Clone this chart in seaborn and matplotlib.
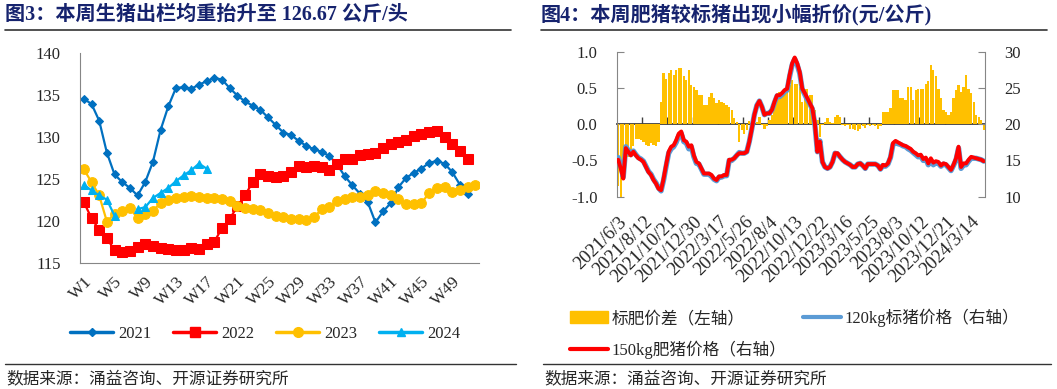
import numpy as np
import pandas as pd
import seaborn as sns
import matplotlib.pyplot as plt
from matplotlib.lines import Line2D
from matplotlib.patches import Patch

# ---- left chart: weekly average slaughter weight (kg/head) ----
week_labels = ["W1", "W5", "W9", "W13", "W17", "W21", "W25", "W29",
               "W33", "W37", "W41", "W45", "W49"]
w2021 = [134.5, 133.9, 131.9, 128.1, 125.5, 124.6, 123.9, 123.0, 124.6, 127.0,
         130.8, 133.6, 135.8, 135.9, 135.7, 136.2, 136.6, 137.0, 136.8, 135.8,
         134.9, 134.2, 133.7, 133.2, 132.3, 131.4, 130.5, 130.2, 129.5, 128.9,
         128.5, 128.2, 127.7, 126.7, 125.3, 124.2, 123.2, 122.2, 119.8, 121.1,
         122.1, 124.0, 125.1, 125.7, 126.2, 126.9, 127.1, 126.8, 125.8, 124.3, 123.2]
w2022 = [122.2, 120.3, 118.9, 117.9, 116.5, 116.3, 116.4, 116.9, 117.2, 117.0,
         116.8, 116.6, 116.5, 116.5, 116.7, 116.6, 117.2, 117.5, 119.1, 120.2,
         121.7, 123.0, 124.6, 125.5, 125.3, 125.2, 125.3, 125.8, 126.5, 126.4,
         126.5, 126.4, 126.0, 126.7, 127.3, 127.4, 127.8, 128.0, 128.1, 128.7,
         129.1, 129.4, 129.6, 130.1, 130.3, 130.6, 130.7, 130.0, 129.1, 128.3, 127.4]
w2023 = [126.1, 124.6, 123.0, 119.9, 120.8, 121.2, 121.5, 120.3, 120.8, 121.2,
         122.1, 122.5, 122.7, 122.8, 122.9, 122.8, 122.7, 122.7, 122.6, 122.4,
         121.8, 121.5, 121.4, 121.3, 120.9, 120.6, 120.4, 120.2, 120.2, 120.1,
         120.4, 121.4, 121.6, 122.3, 122.6, 122.8, 122.8, 123.0, 123.5, 123.3,
         123.0, 122.6, 122.0, 122.0, 122.1, 123.3, 123.9, 124.0, 123.4, 123.7,
         124.0, 124.3]
w2024 = [124.3, 123.6, 123.0, 122.5, 120.6, np.nan, np.nan, 121.4, 121.6, 122.7,
         123.3, 123.9, 124.7, 125.4, 126.0, 126.8, 126.2]

# ---- right chart: fat vs standard hog price (yuan/kg) ----
date_labels = ["2021/6/3", "2021/8/12", "2021/10/21", "2021/12/30", "2022/3/17",
               "2022/5/26", "2022/8/4", "2022/10/13", "2022/12/22", "2023/3/16",
               "2023/5/25", "2023/8/3", "2023/10/12", "2023/12/21", "2024/3/14"]
spread = [-0.85, -1.0, -0.55, -0.5, -0.45, -0.35, -0.3, -0.2, -0.2, -0.22,
          -0.25, -0.28, -0.3, -0.26, -0.28, -0.3, -0.25, 0.31, 0.70, 0.63,
          0.70, 0.75, 0.68, 0.75, 0.78, 0.77, 0.66, 0.61, 0.75, 0.54,
          0.52, 0.47, 0.40, 0.40, 0.26, 0.26, 0.38, 0.43, 0.36, 0.29,
          0.33, 0.31, 0.29, 0.26, 0.24, 0.20, 0.08, 0.03, -0.24, -0.08,
          -0.13, -0.08, 0.05, -0.03, 0.06, 0.03, 0.10, -0.01, -0.06, -0.03,
          0.06, 0.13, 0.29, 0.40, 0.45, 0.43, 0.45, 0.47, 0.54, 0.61,
          0.56, 0.56, 0.52, 0.31, 0.49, 0.49, 0.40, 0.40, 0.20, 0.06,
          -0.17, -0.01, 0.03, 0.08, 0.03, 0.01, 0.10, 0.13, 0.10, -0.01,
          -0.03, -0.01, -0.06, -0.06, -0.08, -0.09, -0.06, -0.03, -0.05, -0.01,
          -0.03, -0.01, -0.03, -0.06, -0.03, 0.17, 0.17, 0.17, 0.22, 0.47,
          0.47, 0.47, 0.36, 0.36, 0.33, 0.52, 0.52, 0.33, 0.47, 0.49,
          0.49, 0.49, 0.56, 0.59, 0.82, 0.75, 0.66, 0.49, 0.36, 0.20,
          0.17, 0.13, 0.17, 0.36, 0.47, 0.54, 0.45, 0.52, 0.68, 0.49,
          0.43, 0.31, 0.13, 0.10, 0.06, -0.08]
price_150 = [15.1, 13.9, 12.5, 16.7, 16.2, 15.7, 16.2, 15.7, 15.3, 15.1,
             14.8, 14.1, 13.4, 13.0, 12.3, 11.8, 11.1, 10.9, 12.5, 14.4,
             16.2, 16.9, 17.1, 17.8, 18.7, 19.0, 17.8, 17.6, 16.9, 17.1,
             15.7, 14.8, 14.6, 13.9, 13.2, 13.2, 13.2, 13.0, 12.5, 12.3,
             12.8, 12.8, 13.0, 13.0, 15.1, 15.1, 15.3, 15.7, 16.0, 16.0,
             16.0, 16.2, 17.6, 19.4, 21.3, 22.6, 23.2, 22.4, 21.3, 21.5,
             21.5, 22.0, 23.1, 24.0, 24.0, 24.3, 24.7, 24.9, 26.8, 28.4,
             29.2, 28.4, 27.2, 24.9, 24.3, 23.6, 22.9, 22.2, 20.1, 16.2,
             17.6, 14.8, 14.1, 13.9, 14.1, 14.8, 16.0, 16.0, 15.5, 15.1,
             14.8, 14.6, 14.4, 14.1, 14.1, 14.5, 14.6, 14.3, 13.9, 14.5,
             14.5, 14.5, 14.5, 14.3, 13.8, 14.4, 14.3, 14.6, 15.5, 17.4,
             17.7, 17.5, 17.3, 17.1, 17.0, 16.8, 16.6, 16.2, 16.0, 15.7,
             15.8, 15.2, 15.4, 14.6, 15.3, 14.7, 14.9, 14.8, 14.3, 14.6,
             14.5, 14.1, 13.7, 14.4, 15.3, 16.9, 14.1, 14.6, 14.6, 15.1,
             15.5, 15.4, 15.3, 15.2, 15.1, 14.9]
price_120 = [15.4, 14.3, 12.7, 16.9, 16.4, 15.8, 16.3, 15.8, 15.4, 15.2,
             14.9, 14.2, 13.5, 13.1, 12.4, 11.9, 11.2, 10.8, 12.3, 14.2,
             16.0, 16.6, 16.9, 17.5, 18.4, 18.7, 17.6, 17.4, 16.6, 16.9,
             15.5, 14.6, 14.5, 13.8, 13.1, 13.1, 13.1, 12.8, 12.4, 12.2,
             12.7, 12.7, 12.9, 12.9, 15.0, 15.0, 15.3, 15.7, 16.1, 16.0,
             16.0, 16.2, 17.6, 19.4, 21.3, 22.6, 23.2, 22.4, 21.3, 21.5,
             21.5, 22.0, 23.0, 23.9, 23.8, 24.1, 24.5, 24.7, 26.6, 28.2,
             29.0, 28.2, 27.0, 24.8, 24.1, 23.4, 22.8, 22.1, 20.0, 16.2,
             17.7, 14.8, 14.1, 13.9, 14.1, 14.8, 16.0, 15.9, 15.5, 15.1,
             14.8, 14.6, 14.4, 14.1, 14.1, 14.5, 14.6, 14.3, 13.9, 14.5,
             14.5, 14.5, 14.5, 14.3, 13.8, 14.3, 14.2, 14.5, 15.4, 17.2,
             17.5, 17.3, 17.2, 17.0, 16.9, 16.6, 16.4, 16.1, 15.8, 15.5,
             15.6, 15.0, 15.2, 14.4, 15.0, 14.4, 14.7, 14.6, 14.2, 14.5,
             14.4, 14.0, 13.6, 14.3, 15.1, 16.7, 13.9, 14.4, 14.4, 14.9,
             15.3, 15.3, 15.3, 15.2, 15.1, 14.9]

sns.set_style("white")
plt.rcParams["font.family"] = ["Liberation Serif", "Noto Sans CJK SC"]
plt.rcParams["axes.unicode_minus"] = False
plt.rcParams["font.size"] = 12

NAVY = "#16236E"
GRAY = "#868686"

fig = plt.figure(figsize=(10.57, 3.89), dpi=100)

# ---------------- left chart ----------------
ax = fig.add_axes([0.0757, 0.3247, 0.3775, 0.5398])
series = [
    ("2021", w2021, "#0070C0", "D", 4.0),
    ("2022", w2022, "#FF0000", "s", 6.5),
    ("2023", w2023, "#FFC000", "o", 7.0),
    ("2024", w2024, "#00B0F0", "^", 6.0),
]
left_handles = []
for name, vals, color, marker, ms in series:
    y = pd.Series(vals, dtype=float)
    seg = y.isna().cumsum()
    valid = y.dropna()
    # draw each contiguous run separately so missing weeks leave a gap
    for _, part in valid.groupby(seg[y.notna()]):
        sns.lineplot(x=part.index, y=part.values, ax=ax, color=color,
                     marker=marker, markersize=ms, markeredgecolor=color,
                     linewidth=1.6, legend=False)
    left_handles.append(Line2D([], [], color=color, marker=marker, markersize=ms,
                               markeredgecolor=color, linewidth=2.5))

ax.set_xlim(-0.5, 51.5)
ax.set_ylim(115, 140)
ax.set_yticks(range(115, 141, 5))
ax.set_xticks(np.arange(0, 52, 4))
ax.set_xticklabels(week_labels, rotation=45, ha="right", rotation_mode="anchor",
                   fontsize=12.5)
ax.set_xticks(np.arange(3.5, 52, 4), minor=True)
ax.tick_params(axis="x", which="major", length=0, pad=8)
ax.tick_params(axis="x", which="minor", direction="in", length=5, color=GRAY)
ax.tick_params(axis="y", direction="in", length=5, color=GRAY, pad=14)
ax.set_xlabel("")
ax.set_ylabel("")
for s in ["top", "right"]:
    ax.spines[s].set_visible(False)
for s in ["left", "bottom"]:
    ax.spines[s].set_color(GRAY)

fig.legend(left_handles, [s[0] for s in series], loc="center",
           bbox_to_anchor=(0.251, 0.142), ncol=4, frameon=False,
           handlelength=2.6, handletextpad=0.3, columnspacing=1.3, fontsize=12)

# ---------------- right chart ----------------
idx = np.arange(len(spread))
axr = fig.add_axes([0.5837, 0.4943, 0.3482, 0.3728])
sns.barplot(x=idx, y=spread, color="#FFC000", saturation=1, width=0.9,
            linewidth=0, edgecolor="none", ax=axr)
axr.set_ylim(-1, 1)
axr.set_xlim(-0.5, len(spread) - 0.5)
axr.set_yticks([-1, -0.5, 0, 0.5, 1])
axr.set_yticklabels(["-1.0", "-0.5", "0.0", "0.5", "1.0"])
axr.set_xticks(np.arange(0, len(spread), 10))
axr.set_xticklabels(date_labels, rotation=45, ha="right", rotation_mode="anchor",
                    fontsize=13.5)
axr.tick_params(axis="x", length=0, pad=12)
axr.tick_params(axis="y", direction="in", length=5, color=GRAY, pad=14)
axr.set_xlabel("")
axr.set_ylabel("")
for s in ["top", "bottom", "right"]:
    axr.spines[s].set_visible(False)
axr.spines["left"].set_color(GRAY)

# zero line with category tick marks
zero = axr.secondary_xaxis(0.5)
zero.set_xticks(np.arange(9.5, len(spread), 10), labels=[])
zero.tick_params(direction="out", length=5, color="#404040", width=1)
for s in zero.spines.values():
    s.set_color("#404040")
    s.set_linewidth(1.3)

axp = axr.twinx()
sns.lineplot(x=idx, y=price_120, ax=axp, color="#5B9BD5", linewidth=3.8, legend=False)
sns.lineplot(x=idx, y=price_150, ax=axp, color="#FF0000", linewidth=2.8, legend=False)
axp.set_ylim(10, 30)
axp.set_yticks(range(10, 31, 5))
axp.tick_params(axis="y", direction="in", length=5, color=GRAY, pad=14)
axp.set_ylabel("")
for s in ["top", "bottom", "left"]:
    axp.spines[s].set_visible(False)
axp.spines["right"].set_color(GRAY)

right_handles = [Patch(color="#FFC000"),
                 Line2D([], [], color="#FF0000", linewidth=3),
                 Line2D([], [], color="#5B9BD5", linewidth=3)]
right_labels = ["标肥价差（左轴）", "150kg肥猪价格（右轴）", "120kg标猪价格（右轴）"]
fig.legend(right_handles, right_labels, loc="upper left",
           bbox_to_anchor=(0.525, 0.245), ncol=2, frameon=False,
           handlelength=2.3, handletextpad=0.2, columnspacing=1.0,
           labelspacing=0.8, fontsize=12)

# ---------------- titles, rules and sources ----------------
title_font = dict(family=["Liberation Serif", "Noto Sans CJK SC"],
                  fontweight="bold", color=NAVY, fontsize=14.5, va="center")
fig.text(0.005, 0.962, "图3：本周生猪出栏均重抬升至 126.67 公斤/头", **title_font)
fig.text(0.511, 0.962, "图4：本周肥猪较标猪出现小幅折价(元/公斤)", **title_font)

for x0, x1 in [(0.005, 0.483), (0.512, 0.991)]:
    fig.add_artist(Line2D([x0, x1], [0.923, 0.923], transform=fig.transFigure,
                          color="#333333", linewidth=1.2))
for x0, x1 in [(0.005, 0.488), (0.514, 0.994)]:
    fig.add_artist(Line2D([x0, x1], [0.064, 0.064], transform=fig.transFigure,
                          color="#333333", linewidth=1.0))

src = "数据来源：涌益咨询、开源证券研究所"
fig.text(0.006, 0.026, src, fontsize=12, va="center")
fig.text(0.515, 0.026, src, fontsize=12, va="center")

fig.savefig("out.png", dpi=100)
